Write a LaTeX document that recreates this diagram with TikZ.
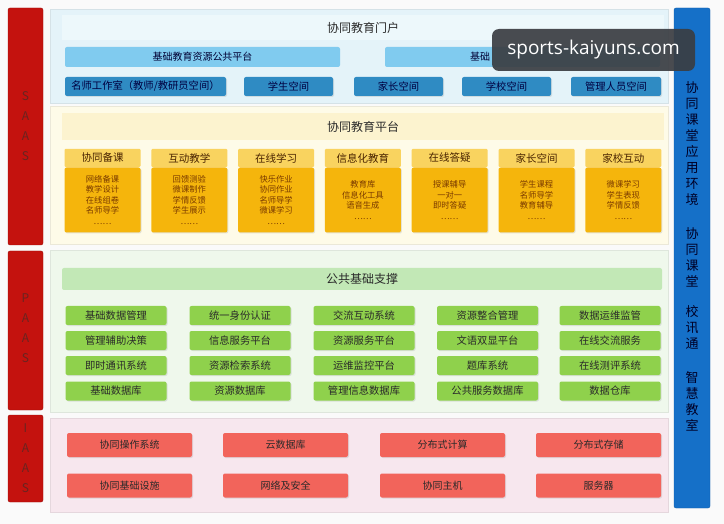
\documentclass[tikz,border=0pt]{standalone}
\usepackage{fontspec}
\setmainfont{Noto Sans CJK SC}
\newfontfamily\markfont{Open Sans}
\usepackage{tikz}
\usetikzlibrary{shadows}
\usepackage{xcolor}
\definecolor{layerred}{HTML}{C4120E}
\definecolor{layerink}{HTML}{6A2420}
\definecolor{appblue}{HTML}{1570C8}
\definecolor{portalbg}{HTML}{E4F3F9}
\definecolor{portalband}{HTML}{EDF8FB}
\definecolor{platbar}{HTML}{80CBEF}
\definecolor{spaceblue}{HTML}{2F8BC3}
\definecolor{platbg}{HTML}{FEFBE8}
\definecolor{platband}{HTML}{FCF3CF}
\definecolor{cardtop}{HTML}{F9D35F}
\definecolor{cardfill}{HTML}{F5B50C}
\definecolor{basebg}{HTML}{EFF8EC}
\definecolor{baseband}{HTML}{C2E8B6}
\definecolor{basegreen}{HTML}{8FD14C}
\definecolor{infrabg}{HTML}{F7E7EE}
\definecolor{infrared}{HTML}{F2645B}
\definecolor{darktext}{HTML}{2A2A2A}
\definecolor{browntext}{HTML}{7A3A00}

\begin{document}
\begin{tikzpicture}[x=1pt,y=-1pt,
  layerbar/.style={fill=layerred,draw=layerred!80!black,rounded corners=2pt},
  layertext/.style={text=layerink,align=center,font=\fontsize{12}{20}\selectfont},
  appbar/.style={fill=appblue,draw=appblue!85!black,rounded corners=2pt},
  apptext/.style={text=black!85!blue,align=center,font=\fontsize{13}{16}\selectfont},
  band/.style={inner sep=0pt,minimum width=602pt,minimum height=25pt},
  bandtext/.style={text=darktext,font=\fontsize{12}{14}\selectfont},
  platbox/.style={fill=platbar,inner sep=0pt,minimum width=275pt,minimum height=20pt,
    rounded corners=2pt,text=black!80!blue,font=\fontsize{10}{12}\selectfont},
  spacebox/.style={fill=spaceblue,inner sep=0pt,minimum height=19pt,rounded corners=2pt,
    text=black!75!blue,font=\fontsize{10.3}{12}\selectfont,
    drop shadow={shadow xshift=1pt,shadow yshift=-1pt,opacity=0.2}},
  cardhead/.style={fill=cardtop,inner sep=0pt,minimum width=76pt,minimum height=18pt,
    rounded corners=1pt,text=browntext!60!black,font=\fontsize{10.5}{12}\selectfont},
  cardbody/.style={fill=cardfill,inner sep=0pt,minimum width=76pt,minimum height=65pt,
    rounded corners=2pt,align=center,text=browntext,font=\fontsize{8.3}{10.5}\selectfont,
    drop shadow={shadow xshift=1pt,shadow yshift=-1pt,opacity=0.2}},
  basebox/.style={fill=basegreen,inner sep=0pt,minimum width=101pt,minimum height=19pt,
    rounded corners=2pt,text=darktext,font=\fontsize{10.3}{12}\selectfont,
    drop shadow={shadow xshift=1pt,shadow yshift=-1pt,opacity=0.2}},
  infrabox/.style={fill=infrared,inner sep=0pt,minimum width=125pt,minimum height=24pt,
    rounded corners=2pt,text=darktext,font=\fontsize{10}{12}\selectfont,
    drop shadow={shadow xshift=1pt,shadow yshift=-1pt,opacity=0.2}}]
\useasboundingbox (0,0) rectangle (724,524);
\fill[white!96!gray] (0,0) rectangle (724,524);

% layer bars on the left
\draw[layerbar] (8,8) rectangle (43,245);
\draw[layerbar] (8,251) rectangle (43,410);
\draw[layerbar] (8,415) rectangle (43,502);
\node[layertext] (saas) at (25.5,126) {S\\A\\A\\S};
\node[layertext] (paas) at (25.5,328) {P\\A\\A\\S};
\node[layertext] (iaas) at (25.5,458) {I\\A\\A\\S};

% application bar on the right
\draw[appbar] (674,8) rectangle (710,508);
\node[apptext] (env) at (692,144) {协\\同\\课\\堂\\应\\用\\环\\境};
\node[apptext] (room) at (692,257) {协\\同\\课\\堂};
\node[apptext] (xxt) at (692,327) {校\\讯\\通};
\node[apptext] (smart) at (692,401) {智\\慧\\教\\室};

% portal
\draw[fill=portalbg,draw=portalbg!85!gray] (50,9) rectangle (668,103);
\node[band,fill=portalband] (portal) at (363,27.5) {};
\node[bandtext] at (portal) {协同教育门户};
\node[platbox] (res) at (202.5,57) {基础教育资源公共平台};
\node[platbox] (app) at (522.5,57) {};
\node[anchor=west,inner sep=0pt,text=black!80!blue,font=\fontsize{10}{12}\selectfont] at (470,57) {基础};
\node[spacebox,minimum width=161pt] (teacher) at (145.5,86.5) {名师工作室（教师/教研员空间）};
\node[spacebox,minimum width=89pt] (student) at (288.5,86.5) {学生空间};
\node[spacebox,minimum width=89pt] (parent) at (398.5,86.5) {家长空间};
\node[spacebox,minimum width=89pt] (school) at (506.5,86.5) {学校空间};
\node[spacebox,minimum width=90pt] (admin) at (616,86.5) {管理人员空间};

% platform
\draw[fill=platbg,draw=platbg!85!gray] (50,106) rectangle (668,244);
\node[band,fill=platband,minimum height=27pt] (plat) at (363,126.5) {};
\node[bandtext] at (plat) {协同教育平台};
\node[cardhead] (prep) at (102.5,158) {协同备课};
\node[cardbody] (prepb) at (102.5,200) {网络备课\\教学设计\\在线组卷\\名师导学\\……};
\node[cardhead] (teach) at (189.3,158) {互动教学};
\node[cardbody] (teachb) at (189.3,200) {回馈测验\\微课制作\\学情反馈\\学生展示\\……};
\node[cardhead] (learn) at (276.1,158) {在线学习};
\node[cardbody] (learnb) at (276.1,200) {快乐作业\\协同作业\\名师导学\\微课学习\\……};
\node[cardhead] (info) at (362.9,158) {信息化教育};
\node[cardbody] (infob) at (362.9,200) {教育库\\信息化工具\\语音生成\\……};
\node[cardhead] (answer) at (449.7,158) {在线答疑};
\node[cardbody] (answerb) at (449.7,200) {授课辅导\\一对一\\即时答疑\\……};
\node[cardhead] (home) at (536.5,158) {家长空间};
\node[cardbody] (homeb) at (536.5,200) {学生课程\\名师导学\\教育辅导\\……};
\node[cardhead] (link) at (623.3,158) {家校互动};
\node[cardbody] (linkb) at (623.3,200) {微课学习\\学生表现\\学情反馈\\……};

% public base
\draw[fill=basebg,draw=basebg!85!gray] (50,250) rectangle (668,412);
\node[band,fill=baseband,minimum width=600pt,minimum height=22pt,rounded corners=2pt] (base) at (362,279) {};
\node[bandtext] at (base) {公共基础支撑};
\node[basebox] (b11) at (116,315.5) {基础数据管理};
\node[basebox] (b12) at (240,315.5) {统一身份认证};
\node[basebox] (b13) at (364,315.5) {交流互动系统};
\node[basebox] (b14) at (487.5,315.5) {资源整合管理};
\node[basebox] (b15) at (610,315.5) {数据运维监管};
\node[basebox] (b21) at (116,340.5) {管理辅助决策};
\node[basebox] (b22) at (240,340.5) {信息服务平台};
\node[basebox] (b23) at (364,340.5) {资源服务平台};
\node[basebox] (b24) at (487.5,340.5) {文语双显平台};
\node[basebox] (b25) at (610,340.5) {在线交流服务};
\node[basebox] (b31) at (116,365.5) {即时通讯系统};
\node[basebox] (b32) at (240,365.5) {资源检索系统};
\node[basebox] (b33) at (364,365.5) {运维监控平台};
\node[basebox] (b34) at (487.5,365.5) {题库系统};
\node[basebox] (b35) at (610,365.5) {在线测评系统};
\node[basebox] (b41) at (116,391) {基础数据库};
\node[basebox] (b42) at (240,391) {资源数据库};
\node[basebox] (b43) at (364,391) {管理信息数据库};
\node[basebox] (b44) at (487.5,391) {公共服务数据库};
\node[basebox] (b45) at (610,391) {数据仓库};

% infrastructure
\draw[fill=infrabg,draw=infrabg!85!gray] (50,418) rectangle (668,512);
\node[infrabox] (os) at (129.5,445) {协同操作系统};
\node[infrabox] (clouddb) at (285.5,445) {云数据库};
\node[infrabox] (calc) at (442.5,445) {分布式计算};
\node[infrabox] (store) at (598.5,445) {分布式存储};
\node[infrabox] (infra) at (129.5,485.5) {协同基础设施};
\node[infrabox] (net) at (285.5,485.5) {网络及安全};
\node[infrabox] (host) at (442.5,485.5) {协同主机};
\node[infrabox] (server) at (598.5,485.5) {服务器};

% overlay mark
\node[fill=black!85!cyan,fill opacity=0.92,text opacity=1,text=white,rounded corners=7pt,
  inner sep=0pt,minimum width=203pt,minimum height=42pt,font=\markfont\fontsize{19}{22}\selectfont]
  (mark) at (593.5,50) {sports-kaiyuns.com};
\end{tikzpicture}
\end{document}
